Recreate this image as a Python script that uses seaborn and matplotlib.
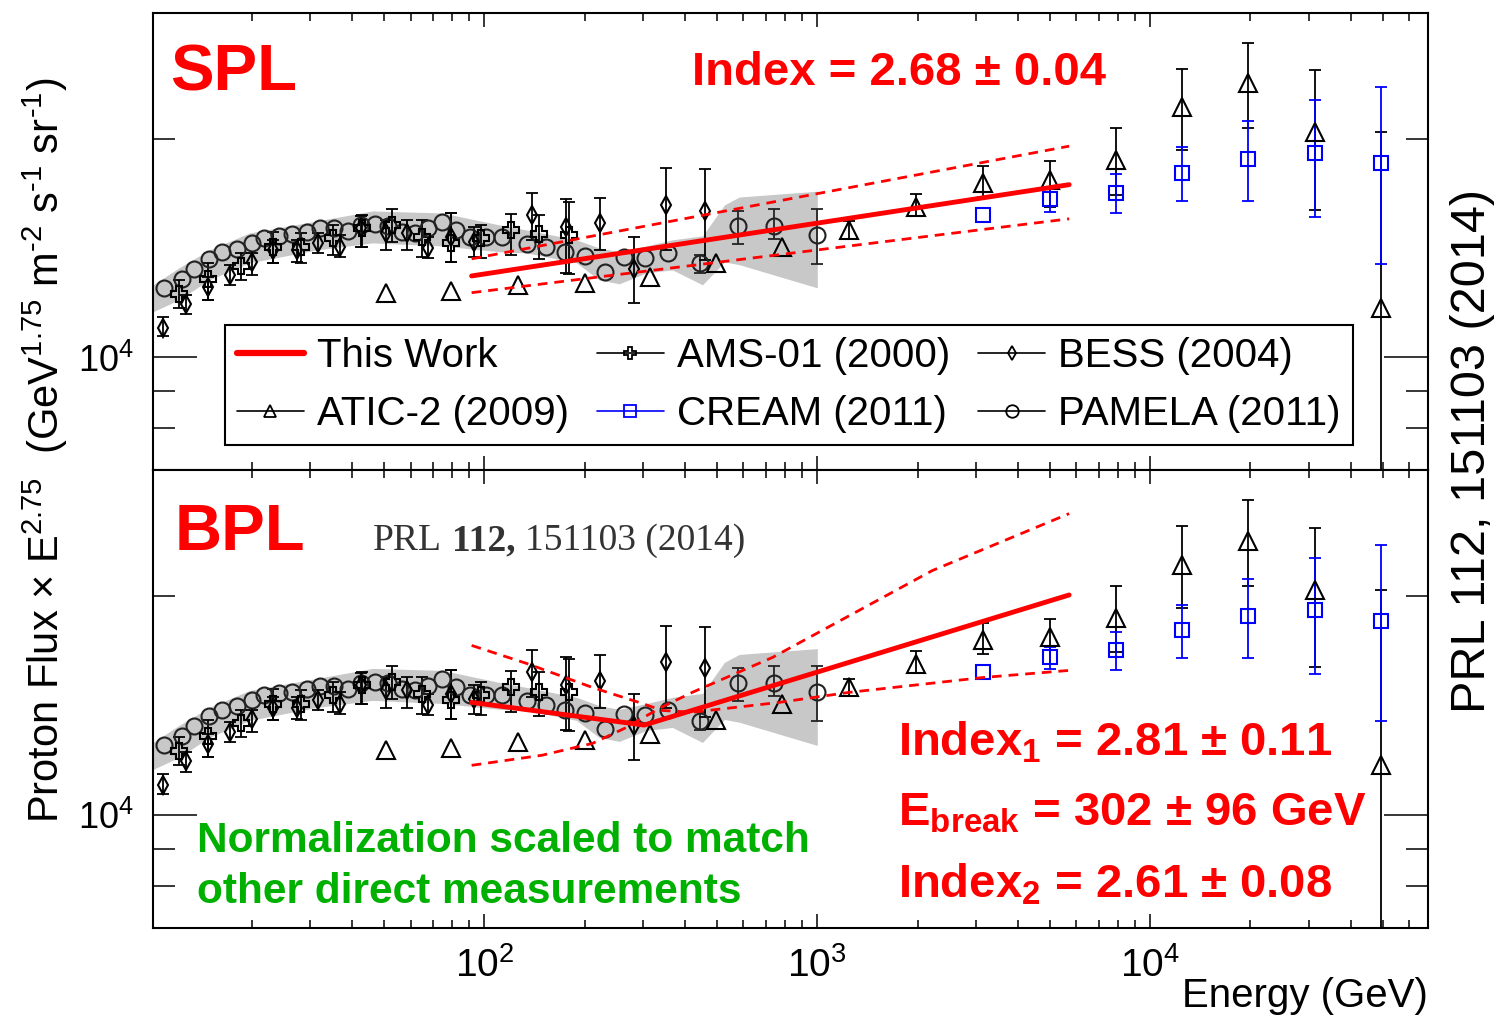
import numpy as np
import pandas as pd
import matplotlib
matplotlib.use("Agg")
import matplotlib.pyplot as plt
import seaborn as sns
from matplotlib.lines import Line2D
from matplotlib.ticker import LogLocator, NullFormatter

# ---------------- measurements (E in GeV, flux x E^2.75) ----------------
pamela_E = [10.9, 12.3, 13.4, 14.9, 16.3, 18.1, 20.0, 21.8, 24.2, 26.5, 29.2, 32.0,
            35.2, 38.8, 42.7, 46.8, 51.2, 56.4, 61.7, 67.5, 74.3, 82.4, 90.2, 101,
            113, 134, 153, 174, 200, 231, 263, 304, 357, 443, 579, 743, 1000]
pamela_F = [12480, 12830, 13250, 13670, 13970, 14120, 14380, 14610, 14700, 14790,
            14890, 15070, 15070, 14930, 15210, 15260, 15170, 14890, 14840, 15070,
            15380, 15000, 14650, 14650, 14650, 14330, 14190, 13970, 13800, 13120,
            13770, 13710, 13940, 13490, 15170, 15170, 14750]
pamela_lo = [np.nan] * 33 + [13080, 14330, 14560, 13460]
pamela_hi = [np.nan] * 33 + [13840, 15910, 16010, 16010]

# grey systematic band drawn under the PAMELA points
band_E = [10.1, 12.1, 14.9, 19.7, 31.3, 46.1, 74.8, 111, 134, 189, 221, 254, 307,
          367, 452, 526, 583, 1000]
band_hi = [12590, 13290, 14060, 14840, 15410, 15910, 15810, 15220, 14980, 14520,
           14150, 13980, 14240, 14520, 14700, 16220, 16630, 16940]
band_lo = [11560, 12010, 12790, 13500, 14060, 14380, 14240, 13980, 13930, 13500,
           12790, 12630, 13080, 13200, 12590, 13540, 13420, 12470]

ams_E = [12.05, 14.8, 18.5, 23.2, 28.2, 35.0, 43.0, 52.9, 65.1, 79.6, 97.3, 120, 146, 180]
ams_F = [12240, 12830, 13370, 14200, 14200, 14610, 15080, 15220, 14660, 14380, 14610,
         14980, 14790, 14750]
ams_lo = [11710, 12010, 12790, 13500, 13500, 13840, 14200, 14430, 13760, 13540, 13710,
          13840, 13670, 13040]
ams_hi = [12790, 13500, 13930, 14890, 14840, 15220, 15710, 16010, 15460, 15810, 15220,
          15760, 15710, 16370]

bess_E = [10.8, 12.7, 14.8, 17.2, 20.0, 23.2, 27.4, 31.7, 36.9, 42.7, 50.5, 58.7, 67.9,
          79.6, 93.3, 139, 176, 223, 282, 352, 461]
bess_F = [10990, 11860, 12510, 13000, 13540, 14060, 14060, 14380, 14200, 15080, 14840,
          14840, 14150, 14660, 14430, 15710, 15120, 15310, 13250, 16220, 15910]
bess_lo = [10690, 11460, 12010, 12590, 13000, 13500, 13540, 13930, 13760, 14200, 14060,
           14060, 13710, 13540, 13760, 14520, 13080, 14060, 11900, 14060, 13630]
bess_hi = [11380, 12200, 12910, 13420, 13930, 14520, 14520, 14840, 14750, 15660, 15460,
           15460, 14660, 15810, 15120, 16840, 16520, 16580, 14660, 18220, 18160]

atic_E = [50.5, 79.6, 126, 200, 315, 497, 785, 1248, 1983, 3150, 5010, 7900, 12470,
          19690, 31300, 49400]
atic_F = [12280, 12360, 12590, 12670, 12910, 13500, 14200, 14980, 16110, 17390, 17550,
          18690, 22100, 23840, 20420, 11710]
atic_lo = [np.nan] * 7 + [14560, 15660, 16630, 16110, 16740, 19290, 20680, 15960, 3000]
atic_hi = [np.nan] * 7 + [15410, 16790, 18340, 18630, 20680, 24990, 27140, 24840, 20420]

cream_E = [3150, 5010, 7900, 12470, 19690, 31300, 49400]
cream_F = [15710, 16520, 16840, 17940, 18750, 19110, 18510]
cream_lo = [np.nan, 15860, 15810, 16420, 16420, 15610, 13460]
cream_hi = [np.nan, 17050, 17880, 19470, 21140, 22590, 23540]

# ---------------- fit results ----------------
fit_range = [91.5, 5710]
spl_index = 2.68
spl_norm_100 = 13030           # flux x E^2.75 at 100 GeV
spl_upper = [13670, 19540]     # dashed envelope at the ends of the fit range
spl_lower = [12280, 15520]

bpl_index1 = 2.81
bpl_index2 = 2.61
bpl_ebreak = 302
bpl_norm_break = 13300         # flux x E^2.75 at the break
bpl_envA_E = [91.5, 134, 211, 298, 342, 421, 769, 1248, 3150, 5710]
bpl_envA_F = [17110, 16160, 14980, 14240, 13930, 13850, 14290, 14750, 15460, 15810]
bpl_envB_E = [91.5, 149, 211, 267, 335, 421, 733, 2215, 5710]
bpl_envB_F = [11710, 12090, 12550, 13200, 14020, 14750, 16470, 21680, 25960]

# ---------------- style ----------------
sns.set_style("ticks")
plt.rcParams.update({
    "font.family": ["Liberation Sans", "DejaVu Sans"],
    "mathtext.fontset": "custom",
    "mathtext.rm": "Liberation Sans",
    "mathtext.it": "Liberation Sans:italic",
    "mathtext.bf": "Liberation Sans:bold",
    "axes.edgecolor": "black",
    "axes.linewidth": 1.5,
    "xtick.color": "black",
    "ytick.color": "black",
    "text.color": "black",
})

RED = "#ff0000"
DASH = (0, (3.5, 2.5))
fig = plt.figure(figsize=(14.99, 10.16), dpi=100)
ax_top = fig.add_axes([0.1021, 0.5374, 0.8506, 0.4498])
ax_bot = fig.add_axes([0.1021, 0.0866, 0.8506, 0.4508], sharex=ax_top)

series = [
    (pamela_E, pamela_F, pamela_lo, pamela_hi, "o", 11.5, "#222222"),
    (ams_E, ams_F, ams_lo, ams_hi, "P", 11, "black"),
    (bess_E, bess_F, bess_lo, bess_hi, "d", 9, "black"),
    (atic_E, atic_F, atic_lo, atic_hi, "^", 12.5, "black"),
    (cream_E, cream_F, cream_lo, cream_hi, "s", 10.5, "#0000ff"),
]


def draw_measurements(ax):
    ax.fill_between(band_E, band_lo, band_hi, color="#c8c8c8", lw=0, zorder=1)
    for E, F, lo, hi, mk, ms, col in series:
        df = pd.DataFrame({"E": E, "F": F, "lo": lo, "hi": hi})
        eb = df.dropna()
        ax.errorbar(eb["E"], eb["F"], yerr=[eb["F"] - eb["lo"], eb["hi"] - eb["F"]],
                    fmt="none", ecolor=col, elinewidth=1.3, capsize=4, capthick=1.3,
                    zorder=3)
        ax.plot(df["E"], df["F"], ls="none", marker=mk, ms=ms, mfc="none", mec=col,
                mew=1.5, zorder=4)


def setup_axes(ax):
    ax.set_xscale("log")
    ax.set_yscale("log")
    ax.set_xlim(10.1, 68400)
    ax.set_ylim(7000, 29800)
    ax.yaxis.set_major_locator(LogLocator(base=10, numticks=10))
    ax.yaxis.set_minor_locator(LogLocator(base=10, subs=np.arange(2, 10), numticks=20))
    ax.yaxis.set_minor_formatter(NullFormatter())
    ax.xaxis.set_minor_formatter(NullFormatter())
    ax.tick_params(axis="x", which="major", direction="in", length=10, width=1.1,
                   top=True, bottom=True, labelsize=28, pad=14)
    ax.tick_params(axis="x", which="minor", direction="in", length=5.5, width=1.1,
                   top=True, bottom=True)
    ax.tick_params(axis="y", which="major", direction="in", length=32, width=1.1,
                   left=True, right=True, labelsize=26, pad=14)
    ax.tick_params(axis="y", which="minor", direction="in", length=16, width=1.1,
                   left=True, right=True)
    for s in ax.spines.values():
        s.set_visible(True)
        s.set_linewidth(1.5)
        s.set_color("black")


for ax in (ax_top, ax_bot):
    setup_axes(ax)
    draw_measurements(ax)

ax_top.tick_params(axis="x", labelbottom=False)

# ---------------- single power law ----------------
E_fit = np.geomspace(fit_range[0], fit_range[1], 60)
spl_F = spl_norm_100 * (E_fit / 100.0) ** (2.75 - spl_index)
sns.lineplot(x=E_fit, y=spl_F, ax=ax_top, color=RED, lw=3.5, sort=False,
             estimator=None, legend=False, zorder=6)
for env in (spl_upper, spl_lower):
    sns.lineplot(x=fit_range, y=env, ax=ax_top, color=RED, lw=2, sort=False,
                 estimator=None, legend=False, linestyle=DASH, zorder=6)

# ---------------- broken power law ----------------
E_b = np.sort(np.append(E_fit, bpl_ebreak))
bpl_F = np.where(E_b < bpl_ebreak,
                 bpl_norm_break * (E_b / bpl_ebreak) ** (2.75 - bpl_index1),
                 bpl_norm_break * (E_b / bpl_ebreak) ** (2.75 - bpl_index2))
sns.lineplot(x=E_b, y=bpl_F, ax=ax_bot, color=RED, lw=3.5, sort=False,
             estimator=None, legend=False, zorder=6)
for xe, ye in ((bpl_envA_E, bpl_envA_F), (bpl_envB_E, bpl_envB_F)):
    sns.lineplot(x=xe, y=ye, ax=ax_bot, color=RED, lw=2, sort=False,
                 estimator=None, legend=False, linestyle=DASH, zorder=6)

# ---------------- legend ----------------
handles = [
    Line2D([], [], color=RED, lw=4.5),
    Line2D([], [], color="black", lw=1.2, marker="^", ms=9, mfc="none", mew=1.3),
    Line2D([], [], color="black", lw=1.2, marker="P", ms=9, mfc="none", mew=1.3),
    Line2D([], [], color="#0000ff", lw=1.2, marker="s", ms=8, mfc="none", mew=1.3),
    Line2D([], [], color="black", lw=1.2, marker="d", ms=7, mfc="none", mew=1.3),
    Line2D([], [], color="black", lw=1.2, marker="o", ms=9, mfc="none", mew=1.3),
]
labels = ["This Work", "ATIC-2 (2009)", "AMS-01 (2000)", "CREAM (2011)",
          "BESS (2004)", "PAMELA (2011)"]
leg = ax_top.legend(handles, labels, ncol=3, loc="upper left",
                    bbox_to_anchor=(0.0565, 0.317), borderaxespad=0, fontsize=29,
                    frameon=True, fancybox=False, edgecolor="black", framealpha=1,
                    handlelength=1.65, handletextpad=0.33, columnspacing=0.7,
                    labelspacing=0.5, borderpad=0.3)
leg.get_frame().set_linewidth(1.5)
leg.set_zorder(10)

# ---------------- annotations ----------------
bold_red = dict(color=RED, fontweight="bold", va="baseline")
ax_top.text(0.013, 0.8315, "SPL", fontsize=47, transform=ax_top.transAxes, **bold_red)
ax_top.text(0.4227, 0.8425, f"Index = {spl_index:.2f} \u00b1 0.04", fontsize=34,
            transform=ax_top.transAxes, **bold_red)
ax_bot.text(0.0173, 0.825, "BPL", fontsize=47, transform=ax_bot.transAxes, **bold_red)
ax_bot.text(0.5843, 0.3777, r"Index$_\mathbf{1}$" + f" = {bpl_index1:.2f} \u00b1 0.11",
            fontsize=34, transform=ax_bot.transAxes, **bold_red)
ax_bot.text(0.5843, 0.2249, r"E$_\mathbf{break}$" + f" = {bpl_ebreak} \u00b1 96 GeV",
            fontsize=34, transform=ax_bot.transAxes, **bold_red)
ax_bot.text(0.5843, 0.0677, r"Index$_\mathbf{2}$" + f" = {bpl_index2:.2f} \u00b1 0.08",
            fontsize=34, transform=ax_bot.transAxes, **bold_red)

green = dict(color="#00b000", fontweight="bold", fontsize=30.5, va="baseline",
             transform=ax_bot.transAxes)
ax_bot.text(0.0345, 0.166, "Normalization scaled to match", **green)
ax_bot.text(0.0345, 0.0546, "other direct measurements", **green)

# journal reference inside the lower panel (serif, volume in bold)
serif = dict(family="Liberation Serif", fontsize=27, color="#333333")
t1 = ax_bot.text(0.1725, 0.825, "PRL", transform=ax_bot.transAxes, va="baseline", **serif)
t2 = ax_bot.annotate("112,", xy=(1, 0), xycoords=t1, xytext=(7, 0),
                     textcoords="offset points", va="bottom", fontweight="bold", **serif)
ax_bot.annotate("151103 (2014)", xy=(1, 0), xycoords=t2, xytext=(7, 0),
                textcoords="offset points", va="bottom", **serif)

fig.text(0.030, 0.557,
         r"Proton Flux $\times$ E$^{2.75}$  (GeV$^{1.75}$ m$^{\text{-}2}$ s$^{\text{-}1}$ sr$^{\text{-}1}$)",
         rotation=90, fontsize=30, ha="center", va="center")
fig.text(0.9527, 0.009, "Energy (GeV)", ha="right", va="baseline", fontsize=29)
fig.text(0.982, 0.556, "PRL 112, 151103 (2014)", rotation=90, fontsize=35,
         ha="center", va="center")

fig.savefig("out.png", dpi=100)
